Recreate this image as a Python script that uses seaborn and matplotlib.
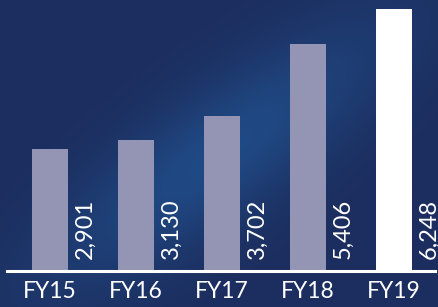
import numpy as np
import pandas as pd
import seaborn as sns
import matplotlib.pyplot as plt
from matplotlib.colors import LinearSegmentedColormap

# values
years = ["FY15", "FY16", "FY17", "FY18", "FY19"]
values = [2901, 3130, 3702, 5406, 6248]
bar_colors = ["#9495b4", "#9495b4", "#9495b4", "#9495b4", "#ffffff"]

df = pd.DataFrame({"year": years, "value": values})

sns.set_theme(style="white")
plt.rcParams["font.family"] = ["Lato", "DejaVu Sans"]

fig = plt.figure(figsize=(4.39, 3.07), dpi=100)

# navy background with a lighter blue streak
bg = fig.add_axes([0, 0, 1, 1], zorder=0)
gx, gy = np.meshgrid(np.linspace(0, 1, 200), np.linspace(0, 1, 140))
streak = np.exp(-((gy - (0.95 - 0.9 * gx)) ** 2) / 0.06) * np.exp(-((gx - 0.5) ** 2) / 0.15)
cmap = LinearSegmentedColormap.from_list("navy", ["#1c2e5f", "#204a85"])
bg.imshow(streak, cmap=cmap, aspect="auto", extent=[0, 1, 0, 1], origin="upper")
bg.axis("off")

ax = fig.add_axes([7 / 439, 36 / 307, 428 / 439, 271 / 307], zorder=1)
ax.patch.set_alpha(0)
sns.barplot(data=df, x="year", y="value", hue="year", palette=bar_colors,
            width=0.42, saturation=1, linewidth=0, legend=False, ax=ax)

for i, v in enumerate(values):
    ax.text(i + 0.29, 290, f"{v:,}", rotation=90, ha="left", va="bottom",
            color="white", fontsize=17)

ax.set_xlim(-0.5, 4.48)
ax.set_ylim(0, 6463)
ax.set_xlabel("")
ax.set_ylabel("")
ax.set_yticks([])
for s in ["top", "left", "right"]:
    ax.spines[s].set_visible(False)
ax.spines["bottom"].set_color("white")
ax.spines["bottom"].set_linewidth(2.2)
ax.tick_params(axis="x", length=0, pad=7, labelsize=16.5, labelcolor="white")

fig.savefig("out.png", dpi=100)
